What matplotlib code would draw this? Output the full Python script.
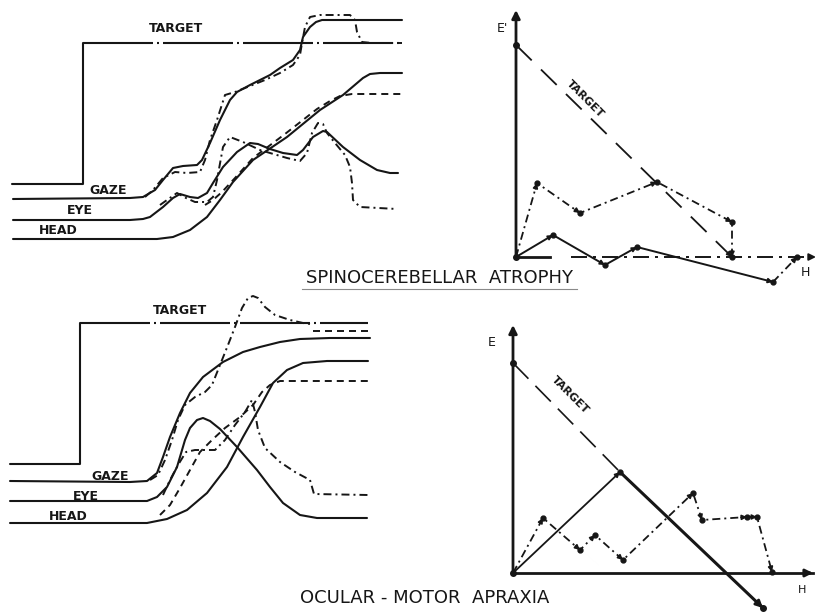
import matplotlib
matplotlib.use("Agg")
import matplotlib.pyplot as plt

W, H = 816, 612
DPI = 100
INK = "#161616"
plt.rcParams["font.family"] = ["DejaVu Sans"]

# ---------------- Spinocerebellar atrophy: time courses ----------------
sca_target_t = [12, 83, 83, 402]
sca_target_y = [66, 66, 207, 207]

sca_gaze_t = [13, 130, 143, 155, 163, 173, 183, 197, 202, 210, 220, 230, 237, 250, 260, 270,
              280, 293, 300, 303, 310, 316, 322, 330, 402]
sca_gaze_y = [51, 52, 53, 60, 70, 82, 84, 85, 90, 107, 130, 150, 158, 165, 170, 175,
              182, 190, 200, 213, 223, 228, 230, 230, 230]

sca_gaze2_t = [145, 153, 163, 175, 187, 200, 205, 210, 217, 225, 235, 250, 265, 280, 293, 300,
               302, 305, 310, 320, 350, 355, 357, 362, 372, 402]
sca_gaze2_y = [53, 60, 72, 78, 77, 78, 90, 110, 130, 155, 158, 164, 170, 177, 185, 195,
               207, 223, 233, 235, 235, 230, 218, 208, 207, 207]

sca_eye_t = [13, 130, 143, 150, 163, 173, 180, 190, 198, 207, 213, 223, 237, 250, 258, 270,
             283, 297, 303, 313, 323, 327, 343, 360, 377, 390, 398]
sca_eye_y = [30, 30, 31, 33, 43, 52, 56, 53, 52, 57, 67, 83, 98, 107, 106, 101,
             97, 95, 100, 113, 119, 118, 103, 90, 80, 77, 77]

sca_eye2_t = [160, 167, 177, 186, 195, 207, 213, 217, 223, 230, 243, 260, 270, 287, 300, 307,
              312, 318, 323, 327, 335, 345, 350, 352, 353, 360, 397]
sca_eye2_y = [45, 50, 57, 52, 48, 48, 53, 70, 103, 113, 108, 100, 97, 92, 89, 97,
              117, 127, 126, 117, 107, 95, 83, 67, 50, 43, 41]

sca_head_t = [13, 157, 173, 190, 207, 220, 233, 253, 287, 320, 343, 363, 370, 380, 402]
sca_head_y = [11, 11, 13, 20, 33, 50, 68, 90, 113, 140, 155, 172, 176, 177, 177]

sca_head2_t = [205, 213, 222, 235, 253, 285, 317, 330, 340, 352, 402]
sca_head2_y = [45, 50, 58, 72, 92, 116, 141, 149, 154, 156, 156]

# ---------------- Ocular-motor apraxia: time courses ----------------
oma_target_t = [10, 80, 80, 368]
oma_target_y = [76, 76, 217, 217]

oma_gaze_t = [10, 130, 147, 157, 163, 170, 180, 190, 203, 223, 243, 260, 280, 300, 330, 370]
oma_gaze_y = [59, 58, 59, 67, 83, 103, 127, 147, 163, 178, 188, 193, 198, 201, 202, 202]

oma_gaze2_t = [150, 158, 165, 172, 178, 185, 195, 205, 212, 220, 228, 235, 242, 248, 253, 258,
               265, 275, 290, 303, 310]
oma_gaze2_y = [60, 65, 80, 100, 120, 135, 143, 148, 155, 175, 195, 213, 232, 242, 244, 242,
               233, 225, 220, 217, 216]
oma_gaze2_tail_t = [313, 370]
oma_gaze2_tail_y = [209, 209]

oma_eye_t = [10, 147, 157, 167, 177, 185, 190, 197, 203, 210, 220, 237, 257, 270, 283, 300, 317, 367]
oma_eye_y = [39, 39, 43, 53, 73, 100, 112, 120, 122, 119, 111, 93, 70, 53, 37, 25, 22, 22]

oma_eye2_t = [163, 170, 178, 186, 195, 205, 215, 225, 235, 245, 252, 255, 258, 265, 280, 295,
              310, 314, 368]
oma_eye2_y = [45, 60, 75, 88, 90, 90, 90, 100, 115, 128, 140, 128, 110, 92, 78, 68,
              60, 46, 45]

oma_head_t = [10, 147, 167, 187, 207, 227, 243, 260, 273, 287, 303, 327, 368]
oma_head_y = [17, 17, 21, 30, 47, 73, 103, 133, 157, 170, 177, 179, 179]

oma_head2_t = [160, 170, 180, 190, 200, 212, 225, 240, 253, 262, 270, 280, 368]
oma_head2_y = [25, 35, 52, 70, 88, 100, 112, 123, 135, 148, 155, 159, 159]

# ---------------- Phase planes (H, E) ----------------
sca_pp_target_H = [0, 216]
sca_pp_target_E = [212, 0]
sca_pp_solid_H = [0, 37, 89, 121, 257]
sca_pp_solid_E = [0, 22, -8, 10, -25]
sca_pp_return_H = [257, 281]
sca_pp_return_E = [-25, 0]
sca_pp_dashdot_H = [0, 21, 64, 141, 216, 216]
sca_pp_dashdot_E = [0, 74, 44, 75, 35, 0]

oma_pp_target_H = [0, 107]
oma_pp_target_E = [210, 101]
oma_pp_drift_H = [107, 250]
oma_pp_drift_E = [101, -35]
oma_pp_solid_H = [0, 107]
oma_pp_solid_E = [0, 101]
oma_pp_dashdot_H = [0, 30, 67, 82, 110, 180, 189, 234, 244, 259]
oma_pp_dashdot_E = [0, 55, 23, 38, 13, 80, 53, 56, 56, 1]

fig = plt.figure(figsize=(W / DPI, H / DPI), dpi=DPI)
fig.patch.set_facecolor("white")


def dash(lw, *px):
    s = lw * DPI / 72.0
    return (0, tuple(p / s for p in px))


def panel(x0, y0, x1, y1, xlim, ylim):
    ax = fig.add_axes([x0 / W, 1 - y1 / H, (x1 - x0) / W, (y1 - y0) / H])
    ax.set_xlim(*xlim)
    ax.set_ylim(*ylim)
    ax.axis("off")
    return ax


LW = 1.5
SOLID = dict(color=INK, lw=LW, solid_capstyle="round", solid_joinstyle="round")


def dashed(pattern, lw=1.4):
    return dict(color=INK, lw=lw, ls=dash(lw, *pattern), dash_capstyle="butt")


DD = (8, 4, 2, 4)
DA = (7, 5)
LBL = dict(fontsize=9, color=INK, fontweight="bold", ha="center", va="center")


def time_panel(ax, d, labels):
    tt, ty, g, g2, e, e2, h, h2 = d
    ax.plot(tt[:3], ty[:3], **SOLID)
    ax.plot(tt[2:], ty[2:], color=INK, lw=LW, ls=dash(LW, 70, 4, 2, 4))
    ax.plot(*g, **SOLID)
    ax.plot(*e, **SOLID)
    ax.plot(*h, **SOLID)
    ax.plot(*g2, **dashed(DD))
    ax.plot(*e2, **dashed(DD))
    ax.plot(*h2, **dashed(DA))
    for text, (x, y) in labels.items():
        ax.text(x, y, text, **LBL)


ax1 = panel(0, 0, 410, 250, (0, 410), (0, 250))
time_panel(ax1,
           (sca_target_t, sca_target_y, (sca_gaze_t, sca_gaze_y), (sca_gaze2_t, sca_gaze2_y),
            (sca_eye_t, sca_eye_y), (sca_eye2_t, sca_eye2_y),
            (sca_head_t, sca_head_y), (sca_head2_t, sca_head2_y)),
           {"TARGET": (176, 222), "GAZE": (108, 60), "EYE": (80, 39), "HEAD": (58, 19)})

ax2 = panel(0, 290, 410, 540, (0, 410), (0, 250))
time_panel(ax2,
           (oma_target_t, oma_target_y, (oma_gaze_t, oma_gaze_y), (oma_gaze2_t, oma_gaze2_y),
            (oma_eye_t, oma_eye_y), (oma_eye2_t, oma_eye2_y),
            (oma_head_t, oma_head_y), (oma_head2_t, oma_head2_y)),
           {"TARGET": (180, 230), "GAZE": (110, 64), "EYE": (86, 44), "HEAD": (68, 23)})
ax2.plot(oma_gaze2_tail_t, oma_gaze2_tail_y, **dashed(DA))


def head_at(ax, x, y, px, py, lw=1.2, size=7):
    """Small filled arrowhead pointing to (x, y) coming from (px, py)."""
    dx, dy = x - px, y - py
    n = (dx * dx + dy * dy) ** 0.5
    back = 6.0
    ax.annotate("", xy=(x, y), xytext=(x - dx / n * back, y - dy / n * back),
                arrowprops=dict(arrowstyle="-|>", color=INK, lw=lw,
                                mutation_scale=size, shrinkA=0, shrinkB=0))


def path_with_heads(ax, hs, es, style, dots=True):
    ax.plot(hs, es, **style)
    for i in range(1, len(hs)):
        head_at(ax, hs[i], es[i], hs[i - 1], es[i - 1])
    if dots:
        ax.plot(hs[1:], es[1:], "o", color=INK, ms=3.5)


def axes_arrows(ax, elen, hlen, hsolid):
    ax.annotate("", xy=(0, elen), xytext=(0, 0),
                arrowprops=dict(arrowstyle="-|>", color=INK, lw=2.0,
                                mutation_scale=12, shrinkA=0, shrinkB=0))
    ax.plot([0, hsolid], [0, 0], color=INK, lw=2.0)


# Spinocerebellar phase plane
ax3 = panel(470, 0, 816, 295, (-46, 300), (-38, 257))
axes_arrows(ax3, 247, 300, 34)
ax3.plot([55, 300], [0, 0], color=INK, lw=1.4, ls=dash(1.4, 16, 6, 3, 6))
head_at(ax3, 300, 0, 290, 0, lw=1.4, size=10)
ax3.plot(sca_pp_target_H, sca_pp_target_E, color=INK, lw=1.3, ls=dash(1.3, 22, 13))
ax3.plot(sca_pp_target_H[0], sca_pp_target_E[0], "o", color=INK, ms=4)
head_at(ax3, sca_pp_target_H[1], sca_pp_target_E[1], 0, 216)
path_with_heads(ax3, sca_pp_solid_H, sca_pp_solid_E, dict(color=INK, lw=1.4))
path_with_heads(ax3, sca_pp_return_H, sca_pp_return_E, dashed(DD, 1.3))
path_with_heads(ax3, sca_pp_dashdot_H, sca_pp_dashdot_E, dashed(DD, 1.3))
ax3.plot(0, 0, "o", color=INK, ms=4)
ax3.text(-14, 229, "E'", fontsize=9, color=INK, ha="center", va="center")
ax3.text(69, 158, "TARGET", fontsize=8, color=INK, rotation=-45,
         ha="center", va="center", fontweight="bold")
ax3.text(289, -15, "H", fontsize=9, color=INK, ha="center", va="center")

# Ocular-motor apraxia phase plane
ax4 = panel(470, 300, 816, 612, (-43, 303), (-39, 273))
axes_arrows(ax4, 248, 300, 300)
head_at(ax4, 300, 0, 290, 0, lw=2.0, size=11)
ax4.plot(oma_pp_target_H, oma_pp_target_E, color=INK, lw=1.2, ls=dash(1.2, 22, 10))
ax4.plot(oma_pp_target_H[0], oma_pp_target_E[0], "o", color=INK, ms=4)
ax4.plot(oma_pp_drift_H, oma_pp_drift_E, color=INK, lw=2.2)
head_at(ax4, oma_pp_drift_H[1], oma_pp_drift_E[1], oma_pp_drift_H[0], oma_pp_drift_E[0],
        lw=2.0, size=10)
ax4.plot(oma_pp_drift_H[1], oma_pp_drift_E[1], "o", color=INK, ms=4)
path_with_heads(ax4, oma_pp_solid_H, oma_pp_solid_E, dict(color=INK, lw=1.3))
path_with_heads(ax4, oma_pp_dashdot_H, oma_pp_dashdot_E, dashed(DD, 1.3))
ax4.plot(0, 0, "o", color=INK, ms=4)
ax4.text(-21, 230, "E", fontsize=9, color=INK, ha="center", va="center")
ax4.text(289, -17, "H", fontsize=8, color=INK, ha="center", va="center")
ax4.text(57, 178, "TARGET", fontsize=8, color=INK, rotation=-45,
         ha="center", va="center", fontweight="bold")

# Case titles
fig.text(439.5 / W, 1 - 278 / H, "SPINOCEREBELLAR  ATROPHY", fontsize=13,
         color=INK, ha="center", va="center")
fig.lines.append(plt.Line2D([302 / W, 577 / W], [1 - 289 / H, 1 - 289 / H],
                            transform=fig.transFigure, color="#8a8a8a", lw=0.8))
fig.text(425 / W, 1 - 598 / H, "OCULAR - MOTOR  APRAXIA", fontsize=13,
         color=INK, ha="center", va="center")

fig.savefig("out.png", dpi=DPI, facecolor="white")
